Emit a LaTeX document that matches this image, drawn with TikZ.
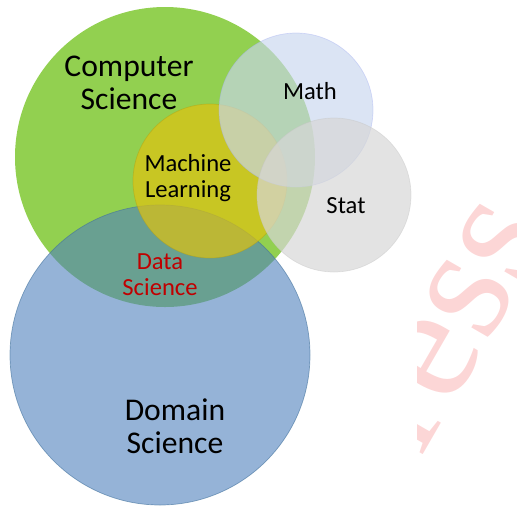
\documentclass[tikz,border=0pt]{standalone}
\usepackage{fontspec}
\setmainfont{Carlito}
\newfontfamily\wmfont{Liberation Serif}
\definecolor{csgreen}{RGB}{146,208,80}
\definecolor{dsblue}{RGB}{79,129,189}
\definecolor{dsline}{RGB}{65,113,156}
\definecolor{mlyellow}{RGB}{223,194,16}
\definecolor{mathblue}{RGB}{200,214,238}
\definecolor{statgray}{RGB}{215,215,215}
\definecolor{dsred}{RGB}{192,0,0}
\definecolor{wmred}{RGB}{252,214,214}
\tikzset{
    big/.style={align=center,font=\fontsize{18}{18.5}\selectfont},
    small/.style={align=center,font=\fontsize{14}{15}\selectfont},
    wm/.style={wmred,rotate=60,font=\wmfont\fontsize{95}{95}\selectfont}
}
\begin{document}
\begin{tikzpicture}[x=0.02cm,y=-0.02cm]
    \useasboundingbox (0,0) rectangle (517,505);
    \begin{scope}
    \clip (417,0) rectangle (517,505);
    \node[wm] (press) at (417,358) {Press};
    \end{scope}
    \clip (0,0) rectangle (517,505);
    % circles
    \fill[csgreen] (165,157) circle (150);
    \draw[dsline,fill=dsblue,fill opacity=0.6,draw opacity=0.6] (160,355) circle (150);
    \draw[mlyellow!80!black,fill=mlyellow,fill opacity=0.7,draw opacity=0.4] (210,181) circle (77);
    \draw[mathblue!80!blue,fill=mathblue,fill opacity=0.65,draw opacity=0.4] (296,110) circle (77);
    \draw[statgray!90!black,fill=statgray,fill opacity=0.7,draw opacity=0.4] (334,195) circle (77);
    % labels
    \node[big] (cs) at (129,83) {Computer\\Science};
    \node[big] (dom) at (175,426) {Domain\\Science};
    \node[small] (ml) at (188,178) {Machine\\Learning};
    \node[small] (math) at (310,91) {Math};
    \node[small] (stat) at (346,206) {Stat};
    \node[small,dsred] (data) at (160,275) {Data\\Science};
\end{tikzpicture}
\end{document}
